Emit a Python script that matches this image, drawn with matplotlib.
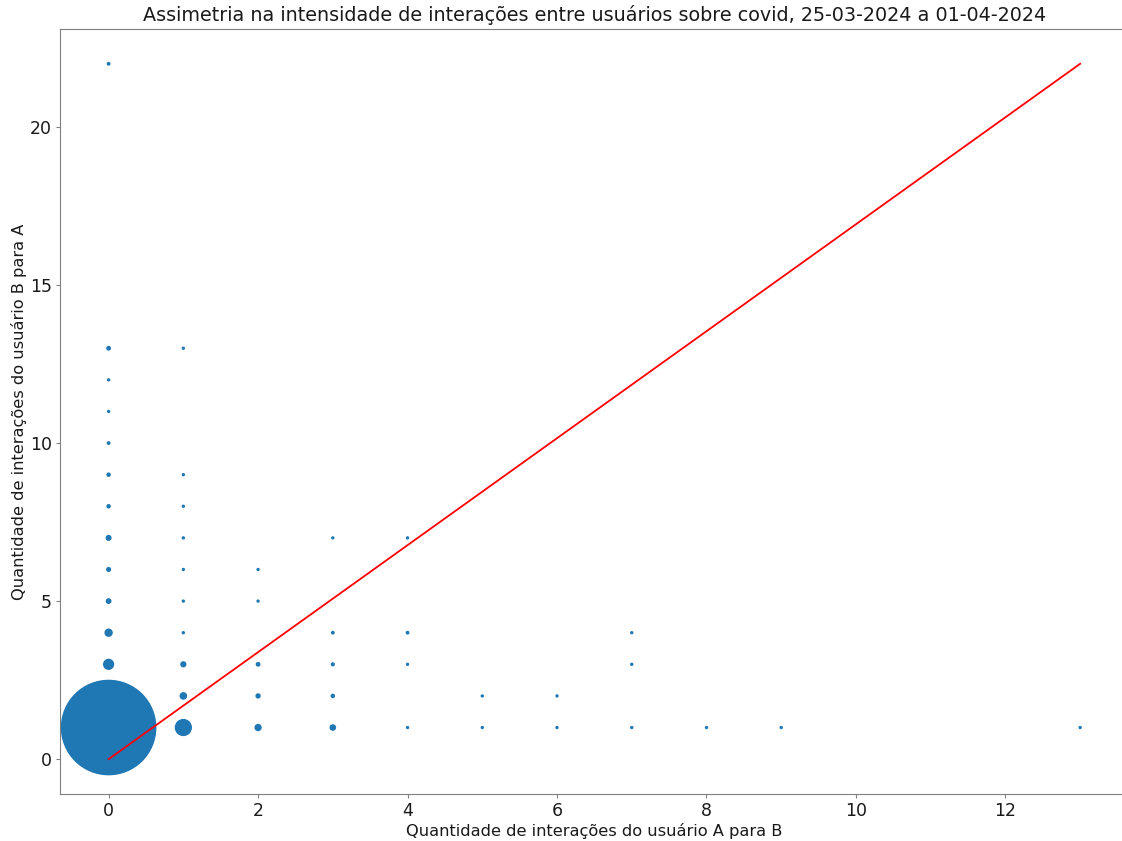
import matplotlib
matplotlib.use('Agg')
import matplotlib.pyplot as plt

# interacoes A->B, B->A e quantidade de pares
x_ab = [0, 0, 0, 0, 0, 0, 0, 0, 0, 0, 0, 0, 0, 0,
        1, 1, 1, 1, 1, 1, 1, 1, 1, 1,
        2, 2, 2, 2, 2,
        3, 3, 3, 3, 3,
        4, 4, 4, 4,
        5, 5, 6, 6, 7, 7, 7, 8, 9, 13]
y_ba = [1, 2, 3, 4, 5, 6, 7, 8, 9, 10, 11, 12, 13, 22,
        1, 2, 3, 4, 5, 6, 7, 8, 9, 13,
        1, 2, 3, 5, 6,
        1, 2, 3, 4, 7,
        1, 3, 4, 7,
        1, 2, 1, 2, 1, 3, 4, 1, 1, 1]
counts = [4600, 200, 50, 25, 10, 7, 11, 5, 5, 3, 2, 2, 6, 3,
          130, 20, 12, 2, 2, 2, 2, 2, 2, 2,
          18, 8, 6, 2, 2,
          14, 5, 4, 3, 2,
          2, 2, 3, 2,
          2, 2, 2, 2, 2, 2, 2, 2, 2, 2]

fig, ax = plt.subplots(figsize=(11.22, 8.41), dpi=100)
ax.scatter(x_ab, y_ba, s=counts, color='#1f77b4')
ax.plot([0, max(x_ab)], [0, max(y_ba)], color='red', lw=1.3)

ax.set_title('Assimetria na intensidade de interações entre usuários sobre covid, 25-03-2024 a 01-04-2024',
             fontsize=13.8, color='#1a1a1a')
ax.set_xlabel('Quantidade de interações do usuário A para B', fontsize=11.7, color='#1a1a1a', labelpad=2)
ax.set_ylabel('Quantidade de interações do usuário B para A', fontsize=11.7, color='#1a1a1a', labelpad=2)
ax.tick_params(labelsize=12.5, colors='#808080', labelcolor='#1a1a1a', length=3, pad=3)
ax.set_yticks([0, 5, 10, 15, 20])
for sp in ax.spines.values():
    sp.set_color('#808080')

fig.subplots_adjust(left=0.0535, right=1.006, bottom=0.056, top=0.9655)
fig.savefig('out.png', dpi=100)
